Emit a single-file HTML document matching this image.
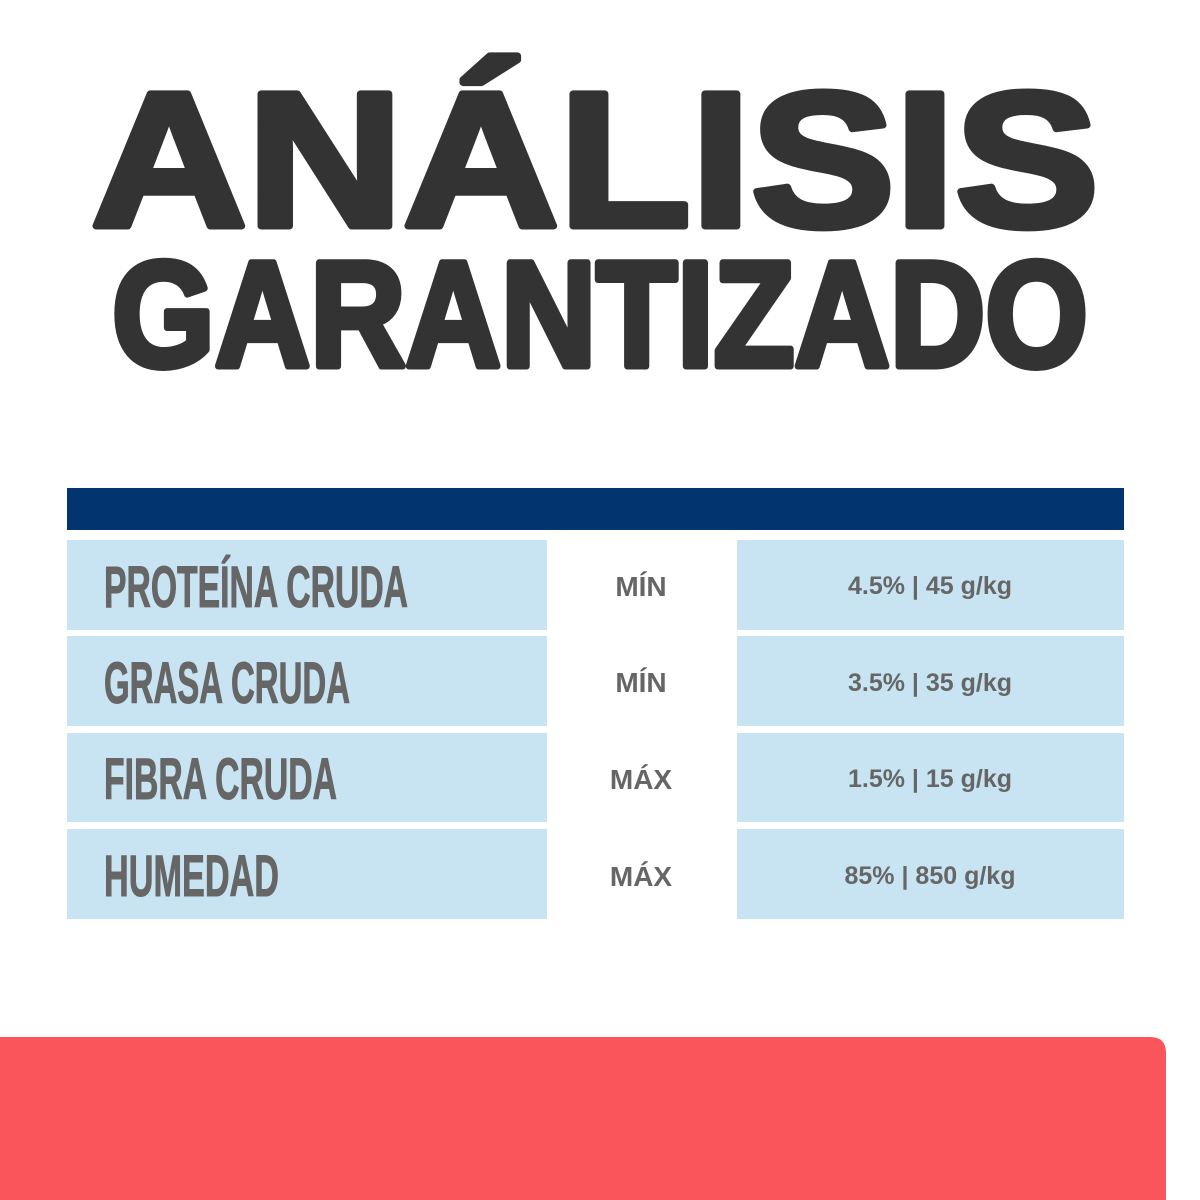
<!DOCTYPE html>
<html><head><meta charset="utf-8"><style>
html,body{margin:0;padding:0;background:#fff;}
svg{display:block}
</style></head><body>
<svg width="1200" height="1200" viewBox="0 0 1200 1200" xmlns="http://www.w3.org/2000/svg">
<rect width="1200" height="1200" fill="#fff"/>
<g font-family="Liberation Sans, sans-serif" font-weight="bold" fill="#333333" stroke="#333333" stroke-width="7" stroke-linejoin="round">
<text x="91" y="226" font-size="192" textLength="1008" lengthAdjust="spacingAndGlyphs">ANÁLISIS</text>
<text x="112" y="366" font-size="150" textLength="976" lengthAdjust="spacingAndGlyphs">GARANTIZADO</text>
</g>
<rect x="67" y="488" width="1057" height="42" fill="#02356f"/>
<g fill="#c8e4f3">
<rect x="67" y="540" width="480" height="90"/>
<rect x="737" y="540" width="387" height="90"/>
<rect x="67" y="636" width="480" height="90"/>
<rect x="737" y="636" width="387" height="90"/>
<rect x="67" y="733" width="480" height="89"/>
<rect x="737" y="733" width="387" height="89"/>
<rect x="67" y="829" width="480" height="90"/>
<rect x="737" y="829" width="387" height="90"/>
</g>
<g font-family="Liberation Sans Narrow, Liberation Sans, sans-serif" font-weight="bold" fill="#666666" stroke="#666666" stroke-width="1" font-size="58">
<text x="104" y="607" textLength="304" lengthAdjust="spacingAndGlyphs">PROTEÍNA CRUDA</text>
<text x="104" y="703" textLength="246" lengthAdjust="spacingAndGlyphs">GRASA CRUDA</text>
<text x="104" y="799" textLength="233" lengthAdjust="spacingAndGlyphs">FIBRA CRUDA</text>
<text x="104" y="896" textLength="175" lengthAdjust="spacingAndGlyphs">HUMEDAD</text>
</g>
<g font-family="Liberation Sans, sans-serif" font-weight="bold" fill="#666666" font-size="28" text-anchor="middle">
<text x="641" y="596">MÍN</text>
<text x="641" y="692">MÍN</text>
<text x="641" y="789">MÁX</text>
<text x="641" y="886">MÁX</text>
</g>
<g font-family="Liberation Sans, sans-serif" font-weight="bold" fill="#666666" font-size="25" text-anchor="middle">
<text x="930" y="594">4.5% | 45 g/kg</text>
<text x="930" y="691">3.5% | 35 g/kg</text>
<text x="930" y="787">1.5% | 15 g/kg</text>
<text x="930" y="884">85% | 850 g/kg</text>
</g>
<path d="M0 1037 H1150 Q1166 1037 1166 1053 V1200 H0 Z" fill="#fa555b"/>
</svg>
</body></html>
